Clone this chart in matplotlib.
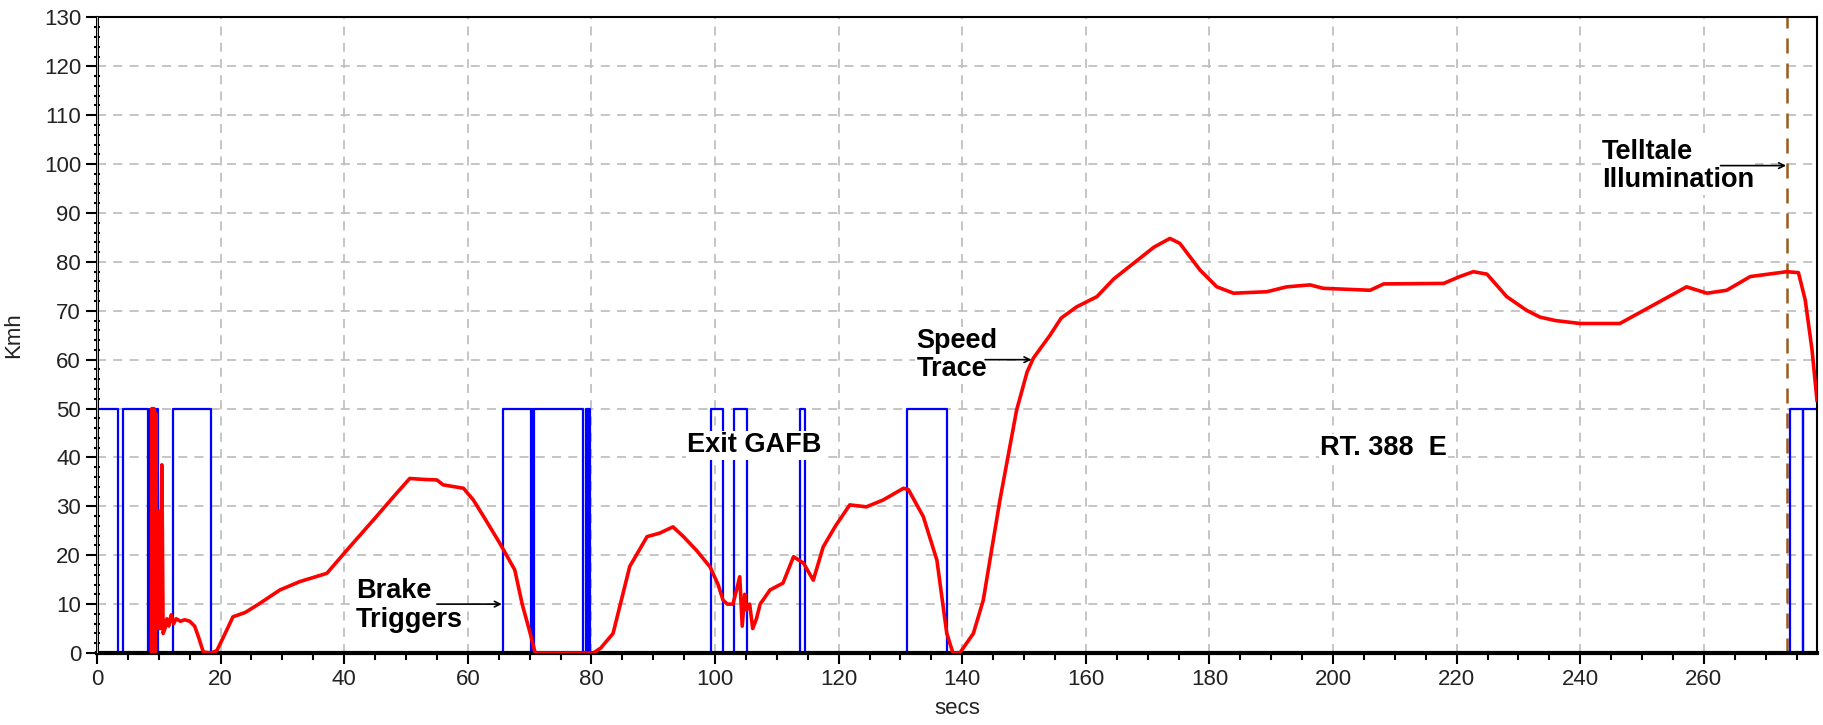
import numpy as np
import matplotlib
matplotlib.use("Agg")
from matplotlib import pyplot as plt
from matplotlib.ticker import MultipleLocator

# speed trace (secs, Kmh)
speed_t = [8.8, 8.9, 9.1, 9.2, 9.4, 9.5, 9.7, 10.0, 10.2, 10.5, 10.7, 11.0, 11.3, 11.6, 12.0,
           12.4, 12.8, 13.5, 14.2, 15.0, 15.8, 16.5, 17.2, 18.5, 19.4, 21.0, 22.0, 24.0,
           26.4, 29.6, 32.8, 37.2, 40.4, 45.2, 48.0, 50.6, 53.0, 55.0, 56.0, 59.3, 60.9,
           63.0, 65.2, 67.6, 68.8, 70.1, 70.9, 80.3, 81.5, 83.5, 86.2, 89.0, 91.0, 93.2,
           94.9, 97.0, 99.2, 100.5, 101.3, 102.0, 102.9, 103.5, 104.0, 104.4, 104.8, 105.1,
           105.6, 106.1, 106.7, 107.3, 108.9, 111.0, 112.7, 114.3, 115.9, 117.5, 119.5,
           121.8, 124.5, 127.2, 130.5, 131.3, 133.7, 135.9, 137.5, 138.5, 139.6, 141.8,
           143.4, 146.1, 148.8, 150.5, 151.5, 154.2, 156.0, 158.5, 161.8, 164.5, 167.7,
           171.0, 173.6, 175.2, 178.5, 181.2, 183.9, 189.3, 192.5, 196.3, 198.4, 206.0,
           208.2, 217.9, 220.5, 222.7, 224.9, 228.1, 231.3, 233.5, 236.0, 240.0, 246.4,
           251.3, 257.2, 260.5, 263.7, 267.5, 273.4, 275.3, 276.4, 277.5, 278.3]
speed_v = [0, 50, 0, 50, 0, 49, 5, 29, 5, 38.5, 4, 5, 7, 5.5, 7.8,
           6, 7, 6.5, 6.8, 6.5, 5.5, 3, 0.2, 0, 0.5, 4.7, 7.4, 8.3,
           10.2, 12.9, 14.6, 16.3, 21, 27.9, 32, 35.7, 35.5, 35.4, 34.4, 33.7, 31.3,
           27, 22.4, 17, 10, 4, 0, 0, 1, 4, 17.7, 23.8, 24.5, 25.8,
           23.8, 21, 17.6, 14, 10.8, 10, 10, 13, 15.6, 5.5, 12, 8.8,
           10, 5, 7, 10, 12.9, 14.3, 19.7, 18.4, 14.9, 21.7, 26,
           30.3, 29.9, 31.3, 33.7, 33.4, 27.9, 19, 4, 0, 0, 4,
           10.8, 31.3, 49.7, 57.5, 60.3, 65, 68.5, 70.8, 72.9, 76.5, 79.7,
           83, 84.8, 83.8, 78.3, 74.9, 73.6, 73.9, 74.9, 75.3, 74.6, 74.2,
           75.5, 75.6, 77, 78, 77.5, 72.9, 70.1, 68.7, 68, 67.4, 67.4,
           70.8, 74.9, 73.6, 74.2, 77, 78, 77.8, 72.2, 62, 51.7]

# brake trigger signal: switch times and level after each switch
brake_t = [0, 3.4, 4.2, 8.3, 8.5, 8.7, 8.9, 9.3, 9.6, 9.9, 12.3, 18.4,
           65.7, 70.2, 70.4, 70.6, 70.7, 78.6, 79.2, 79.4, 79.5, 79.7,
           99.3, 101.3, 103.1, 105.1, 113.8, 114.6, 131.1, 137.6,
           273.9, 276.0, 276.1, 278.5]
brake_v = [50, 0, 50, 0, 50, 0, 50, 0, 50, 0, 50, 0,
           50, 0, 50, 0, 50, 0, 50, 0, 50, 0,
           50, 0, 50, 0, 50, 0, 50, 0,
           50, 0, 50, 50]

telltale_t = 273.5

plt.rcParams['font.family'] = ['Liberation Sans', 'DejaVu Sans']

fig = plt.figure(figsize=(18.23, 7.25), dpi=100)
ax = fig.add_axes([0.0532, 0.0993, 0.9435, 0.8766])

ax.set_xlim(0, 278.3)
ax.set_ylim(0, 130)
ax.xaxis.set_major_locator(MultipleLocator(20))
ax.xaxis.set_minor_locator(MultipleLocator(5))
ax.yaxis.set_major_locator(MultipleLocator(10))
ax.yaxis.set_minor_locator(MultipleLocator(2))
ax.grid(True, which='major', color='#c0c0c0', linestyle=(0, (5, 4)), linewidth=1.3)
ax.set_axisbelow(True)

ax.tick_params(which='major', direction='out', length=8, width=1.5, labelsize=16, colors='black')
ax.tick_params(axis='y', which='minor', direction='inout', length=5, width=1.5)
ax.tick_params(axis='x', which='minor', direction='out', length=5, width=1.5)
ax.tick_params(axis='both', labelcolor='#222222')

for s in ['top', 'right']:
    ax.spines[s].set_linewidth(1.5)
ax.spines['bottom'].set_linewidth(3)
ax.spines['left'].set_linewidth(2.2)
for sp in ax.spines.values():
    sp.set_zorder(5)

ax.axvline(0, color='#40e8f8', lw=1.4, zorder=6)

ax.plot(brake_t, brake_v, color='#0000ff', lw=1.6, drawstyle='steps-post', zorder=4)
ax.plot(speed_t, speed_v, color='#ff0000', lw=2.6, zorder=5.5)
ax.axvline(telltale_t, color='#9a5a1e', lw=1.8, linestyle=(0, (6, 4)), zorder=3)

ax.set_xlabel('secs', fontsize=16, color='#222222', labelpad=6)
ax.set_ylabel('Kmh', fontsize=16, color='#222222', labelpad=14)

txt = dict(fontsize=19.5, fontweight='bold', color='black', va='center', ha='left',
           linespacing=1.12, zorder=6,
           bbox=dict(facecolor='white', edgecolor='none', pad=1))
arr = dict(arrowstyle='->', color='black', lw=1.2, shrinkA=0, shrinkB=0)

ax.text(41.9, 9.7, 'Brake\nTriggers', **txt)
ax.annotate('', xy=(65.5, 10), xytext=(55, 10), arrowprops=arr, zorder=7)

ax.text(95.5, 42.5, 'Exit GAFB', **txt)

ax.text(132.6, 60.9, 'Speed\nTrace', **txt)
ax.annotate('', xy=(151.2, 60), xytext=(143.7, 60), arrowprops=arr, zorder=7)

ax.text(197.9, 41.9, 'RT. 388  E', **txt)

ax.text(243.5, 99.6, 'Telltale\nIllumination', **txt)
ax.annotate('', xy=(273.3, 99.7), xytext=(262.7, 99.7), arrowprops=arr, zorder=7)

fig.savefig('out.png', dpi=100, facecolor='white')
